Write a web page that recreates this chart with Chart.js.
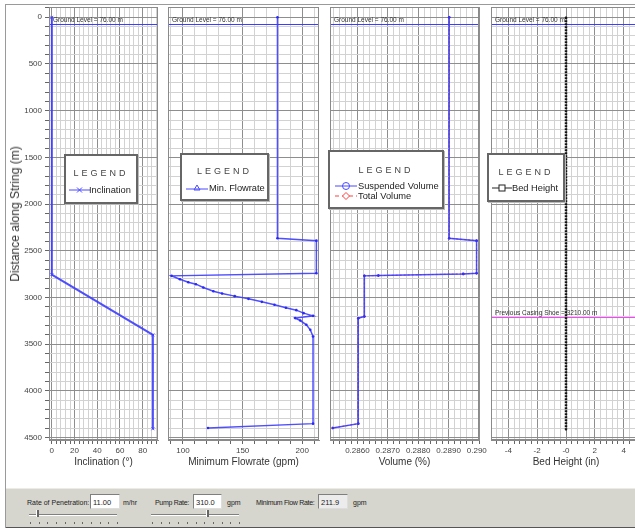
<!DOCTYPE html>
<html><head><meta charset="utf-8">
<script src="https://cdn.jsdelivr.net/npm/chart.js@4.4.0/dist/chart.umd.min.js"></script>
<style>
html,body{margin:0;padding:0;width:635px;height:529px;overflow:hidden;background:#fff;font-family:"Liberation Sans",Arial,sans-serif;}
.pane{position:absolute;top:0;overflow:hidden;}
.frameTop{position:absolute;left:5px;top:4px;width:630px;height:1px;background:#9a9a9a;}
.frameLeft{position:absolute;left:5px;top:4px;width:1px;height:524px;background:#9a9a9a;}
.ytitle{position:absolute;left:15px;top:214px;transform:translate(-50%,-50%) rotate(-90deg);white-space:nowrap;font-size:12px;color:#333;}
.legend{position:absolute;background:#fff;border:2px solid #666;box-shadow:1px 1px 0 #bbb;box-sizing:border-box;}
.legend .hd{position:absolute;left:0;right:0;text-align:center;font-size:9px;letter-spacing:3px;color:#444;}
.legend .it{position:absolute;font-size:9.3px;color:#222;white-space:nowrap;line-height:10px;}
.legend svg{position:absolute;}
#ctrl{position:absolute;left:6px;top:488px;width:629px;height:40px;background:#d6d5ce;border-top:1px solid #ecebe6;border-bottom:1px solid #555;box-sizing:border-box;font-size:7px;color:#222;}
#ctrl .lb{position:absolute;top:10px;white-space:nowrap;}
#ctrl .in{position:absolute;top:5px;height:15px;box-sizing:border-box;border:1px solid #7f7f7f;border-right-color:#ddd;border-bottom-color:#ddd;background:#fff;padding:3px 0 0 2px;font-size:7.5px;}
#ctrl .trk{position:absolute;top:25px;height:2px;border-top:1px solid #808080;border-bottom:1px solid #fff;box-sizing:border-box;}
#ctrl .thumb{position:absolute;top:21px;width:2px;height:7px;background:#666;border-left:1px solid #fff;}
#ctrl .dots{position:absolute;top:33px;height:1px;}
#ctrl .dots i{position:absolute;top:0;width:1px;height:2px;background:#666;}
</style></head><body>
<div class="frameTop"></div><div class="frameLeft"></div>
<div class="pane" style="left:0;width:162px;height:480px;"><canvas id="c1" width="162" height="480"></canvas></div>
<div class="pane" style="left:163px;width:160px;height:480px;"><canvas id="c2" width="160" height="480"></canvas></div>
<div class="pane" style="left:325px;width:162px;height:480px;"><canvas id="c3" width="162" height="480"></canvas></div>
<div class="pane" style="left:487px;width:158px;height:480px;"><canvas id="c4" width="158" height="480"></canvas></div>
<div class="ytitle">Distance along String (m)</div>

<div class="legend" style="left:64px;top:154px;width:74px;height:50px;">
  <div class="hd" style="top:12px;">LEGEND</div>
  <svg style="left:3px;top:29px" width="21" height="10"><line x1="0" y1="5" x2="21" y2="5" stroke="#4a4aff" stroke-width="1"/><path d="M8 2.5 L13 7.5 M13 2.5 L8 7.5" stroke="#4a4aff" stroke-width="1"/></svg>
  <div class="it" style="left:23px;top:29px;">Inclination</div>
</div>
<div class="legend" style="left:180px;top:153px;width:89px;height:48px;">
  <div class="hd" style="top:11px;">LEGEND</div>
  <svg style="left:4px;top:28px" width="22" height="10"><line x1="0" y1="6" x2="22" y2="6" stroke="#4a4aff" stroke-width="1"/><path d="M11 2 L14 7 L8 7 Z" stroke="#4a4aff" fill="none" stroke-width="1"/></svg>
  <div class="it" style="left:27px;top:28px;">Min. Flowrate</div>
</div>
<div class="legend" style="left:328px;top:150px;width:116px;height:59px;">
  <div class="hd" style="top:13px;">LEGEND</div>
  <svg style="left:5px;top:29px" width="22" height="10"><line x1="0" y1="5" x2="22" y2="5" stroke="#4a4aff" stroke-width="1"/><circle cx="11" cy="5" r="3.5" stroke="#4a4aff" fill="none" stroke-width="1"/></svg>
  <div class="it" style="left:28px;top:29px;">Suspended Volume</div>
  <svg style="left:5px;top:39px" width="22" height="10"><line x1="0" y1="5" x2="22" y2="5" stroke="#ff4040" stroke-width="1" stroke-dasharray="4,3"/><path d="M11 1.5 L14.5 5 L11 8.5 L7.5 5 Z" stroke="#ff4040" fill="#fff" stroke-width="1"/></svg>
  <div class="it" style="left:28px;top:39px;">Total Volume</div>
</div>
<div class="legend" style="left:487px;top:153px;width:78px;height:49px;">
  <div class="hd" style="top:12px;">LEGEND</div>
  <svg style="left:3px;top:28px" width="20" height="10"><line x1="0" y1="5" x2="20" y2="5" stroke="#222" stroke-width="1"/><rect x="7" y="2" width="6" height="6" stroke="#222" fill="#fff" stroke-width="1"/></svg>
  <div class="it" style="left:23px;top:28px;">Bed Height</div>
</div>

<div id="ctrl">
  <div class="lb" style="left:21px;">Rate of Penetration:</div>
  <div class="in" style="left:84px;width:30px;">11.00</div>
  <div class="lb" style="left:117px;">m/hr</div>
  <div class="lb" style="left:149px;letter-spacing:-0.3px;">Pump Rate:</div>
  <div class="in" style="left:187px;width:29px;">310.0</div>
  <div class="lb" style="left:221px;">gpm</div>
  <div class="lb" style="left:250px;letter-spacing:-0.3px;">Minimum Flow Rate:</div>
  <div class="in" style="left:312px;width:30px;background:#ececec;">211.9</div>
  <div class="lb" style="left:347px;">gpm</div>
  <div class="trk" style="left:23px;width:88px;"></div>
  <div class="thumb" style="left:30px;"></div>
  <div class="dots" id="d1" style="left:24px;width:88px;"></div>
  <div class="trk" style="left:145px;width:88px;"></div>
  <div class="thumb" style="left:200px;"></div>
  <div class="dots" id="d2" style="left:146px;width:88px;"></div>
</div>

<script>
// ---------- data ----------
const depthMin = -110, depthMax = 4525;
const groundLevel = 76;
const casingShoe = 3210;

const inclinationDepth = [0, 2755, 3400, 4405];
const inclinationDeg   = [0, 0, 89, 89];

const flowDepth = [0, 2366, 2391, 2740, 2768, 2804, 2836, 2857, 2893, 2932, 2957, 2985, 3014, 3046, 3078, 3110, 3135, 3167, 3196, 3220, 3246, 3292, 3345, 3417, 4350, 4396];
const flowGpm   = [179.2, 179.2, 211.8, 211.8, 90.5, 97.5, 104.5, 110.9, 117.1, 125.5, 132.8, 143.4, 154.9, 166.1, 176.7, 186.3, 195.0, 201.1, 209.0, 194.1, 198.3, 203.4, 206.7, 209.0, 209.0, 121.0];

const volDepth     = [0, 2366, 2391, 2740, 2747, 2765, 2768, 3203, 3221, 4350, 4396];
const suspendedVol = [0.28902, 0.28902, 0.28992, 0.28992, 0.28948, 0.28669, 0.28623, 0.28623, 0.28603, 0.28603, 0.28519];
const totalVol     = [0.28902, 0.28902, 0.28992, 0.28992, 0.28948, 0.28669, 0.28623, 0.28623, 0.28603, 0.28603, 0.28519];

const bedDepth  = [0, 4414];
const bedHeight = [0, 0];

// tick values
function range(a, b, s, dec) { const r = []; const n = Math.round((b - a) / s); for (let i = 0; i <= n; i++) r.push(+(a + i * s).toFixed(dec)); return r; }
const depthTicks = range(-100, 4500, 100, 0);
const inclTicks  = range(0, 92, 4, 0);
const flowTicks  = range(90, 210, 10, 0);
const volTicks   = range(0.2852, 0.2900, 0.0002, 5);
const bedTicks   = range(-4.8, 4.8, 0.4, 2);

// ---------- drawing ----------
const FONT = '"Liberation Sans", Arial, sans-serif';
const MAJOR = '#8e8e8e', MINOR = '#d2d2d2';
const BLUE = 'rgba(60,60,255,0.9)';
function isMajor(v, m) { const q = v / m; return Math.abs(q - Math.round(q)) < 1e-6; }
function pts(ys, xs) { return ys.map((d, i) => ({ x: xs[i], y: d })); }
function noPad(s) { s.paddingLeft = 0; s.paddingRight = 0; s.paddingTop = 0; s.paddingBottom = 0; }

const refLines = {
  id: 'refLines',
  beforeDatasetsDraw(chart, args, opts) {
    const { ctx, chartArea: a, scales: { y } } = chart;
    ctx.save();
    (opts.lines || []).forEach(l => {
      const py = Math.round(y.getPixelForValue(l.value)) + 0.5;
      ctx.strokeStyle = l.color; ctx.lineWidth = 1;
      ctx.beginPath(); ctx.moveTo(a.left, py); ctx.lineTo(a.right, py); ctx.stroke();
      ctx.font = '6.5px ' + FONT; ctx.fillStyle = '#333'; ctx.textBaseline = 'bottom';
      ctx.fillText(l.label, a.left + 4, py - 1);
    });
    ctx.restore();
  },
  afterDraw(chart) {
    const { ctx, chartArea: a } = chart;
    ctx.save(); ctx.strokeStyle = '#8a8a8a'; ctx.lineWidth = 1;
    ctx.strokeRect(a.left + 0.5, a.top + 0.5, a.right - a.left - 1, a.bottom - a.top - 1);
    ctx.restore();
  }
};

function panel(id, o) {
  return new Chart(document.getElementById(id), {
    type: 'scatter',
    data: { datasets: o.datasets },
    options: {
      responsive: false, animation: false, devicePixelRatio: 1,
      layout: { autoPadding: false, padding: { top: 7, right: o.padRight, left: 0, bottom: 0 } },
      plugins: { legend: { display: false }, tooltip: { enabled: false }, refLines: { lines: o.lines } },
      scales: {
        x: {
          type: 'linear', position: 'bottom', min: o.xMin, max: o.xMax,
          afterBuildTicks: s => { s.ticks = o.xTicks.map(v => ({ value: v })); },
          afterFit: s => { s.height = 40; noPad(s); },
          ticks: { autoSkip: false, maxRotation: 0, minRotation: 0, font: { size: 8, family: FONT }, color: '#444', padding: 2,
                   callback: v => isMajor(v, o.xMajor) ? o.xFmt(v) : '' },
          grid: { color: c => (c.tick && isMajor(c.tick.value, o.xMajor)) ? MAJOR : MINOR, tickColor: '#666', tickLength: 4 },
          border: { color: '#8a8a8a' },
          title: { display: true, text: o.xLabel, font: { size: 10, family: FONT }, color: '#333', padding: { top: 0, bottom: 12 } }
        },
        y: {
          type: 'linear', reverse: true, min: depthMin, max: depthMax,
          afterBuildTicks: s => { s.ticks = depthTicks.map(v => ({ value: v })); },
          afterFit: s => { s.width = o.yWidth; noPad(s); },
          ticks: { display: o.showY, autoSkip: false, font: { size: 8, family: FONT }, color: '#444', padding: 3,
                   callback: v => isMajor(v, 500) ? String(v) : '' },
          grid: { color: c => (c.tick && isMajor(c.tick.value, 500)) ? MAJOR : MINOR, tickColor: '#666', tickLength: 4, drawTicks: o.showY },
          border: { color: '#8a8a8a' }
        }
      }
    },
    plugins: [refLines]
  });
}

const gl = { value: groundLevel, color: '#3c3cff', label: 'Ground Level = ' + groundLevel.toFixed(2) + ' m' };

panel('c1', {
  padRight: 4, yWidth: 49, showY: true,
  xMin: -2.5, xMax: 93.5, xTicks: inclTicks, xMajor: 20, xFmt: v => String(v), xLabel: 'Inclination (°)',
  lines: [gl],
  datasets: [{ label: 'Inclination', data: pts(inclinationDepth, inclinationDeg), showLine: true,
               borderColor: BLUE, borderWidth: 2, pointStyle: 'crossRot', pointRadius: 2, pointBorderColor: BLUE, pointBorderWidth: 1 }]
});
panel('c2', {
  padRight: 4, yWidth: 5, showY: false,
  xMin: 87.5, xMax: 214, xTicks: flowTicks, xMajor: 50, xFmt: v => String(v), xLabel: 'Minimum Flowrate (gpm)',
  lines: [gl],
  datasets: [{ label: 'Min. Flowrate', data: pts(flowDepth, flowGpm), showLine: true,
               borderColor: BLUE, borderWidth: 1.5, pointStyle: 'circle', pointRadius: 1.3, pointBackgroundColor: '#2828ff', pointBorderColor: '#2828ff', pointBorderWidth: 0 }]
});
panel('c3', {
  padRight: 8, yWidth: 5, showY: false,
  xMin: 0.2851, xMax: 0.2900, xTicks: volTicks, xMajor: 0.001, xFmt: v => v.toFixed(4), xLabel: 'Volume (%)',
  lines: [gl],
  datasets: [
    { label: 'Suspended Volume', data: pts(volDepth, suspendedVol), showLine: true,
      borderColor: BLUE, borderWidth: 1.5, pointStyle: 'circle', pointRadius: 1.3, pointBackgroundColor: '#3030ff', pointBorderWidth: 0 },
    { label: 'Total Volume', data: pts(volDepth, totalVol), showLine: true, borderDash: [2, 2],
      borderColor: 'rgba(220,30,60,0.85)', borderWidth: 1, pointStyle: 'rectRot', pointRadius: 1.5, pointBackgroundColor: '#d0203c', pointBorderWidth: 0 }
  ]
});
panel('c4', {
  padRight: 4, yWidth: 4, showY: false,
  xMin: -5.2, xMax: 5.2, xTicks: bedTicks, xMajor: 2, xFmt: v => (v === 0 ? '-0' : String(v)), xLabel: 'Bed Height (in)',
  lines: [gl, { value: casingShoe, color: '#ff40ff', label: 'Previous Casing Shoe = ' + casingShoe.toFixed(2) + ' m' }],
  datasets: [{ label: 'Bed Height', data: pts(bedDepth, bedHeight), showLine: true,
               borderColor: '#111', borderWidth: 2.5, borderDash: [2, 1], pointStyle: 'rect', pointRadius: 1.2, pointBackgroundColor: '#111', pointBorderWidth: 0 }]
});

// slider tick dots
['d1', 'd2'].forEach(id => {
  const el = document.getElementById(id);
  for (let i = 0; i < 11; i++) { const d = document.createElement('i'); d.style.left = Math.round(i * 8.7) + 'px'; el.appendChild(d); }
});
</script>
</body></html>
